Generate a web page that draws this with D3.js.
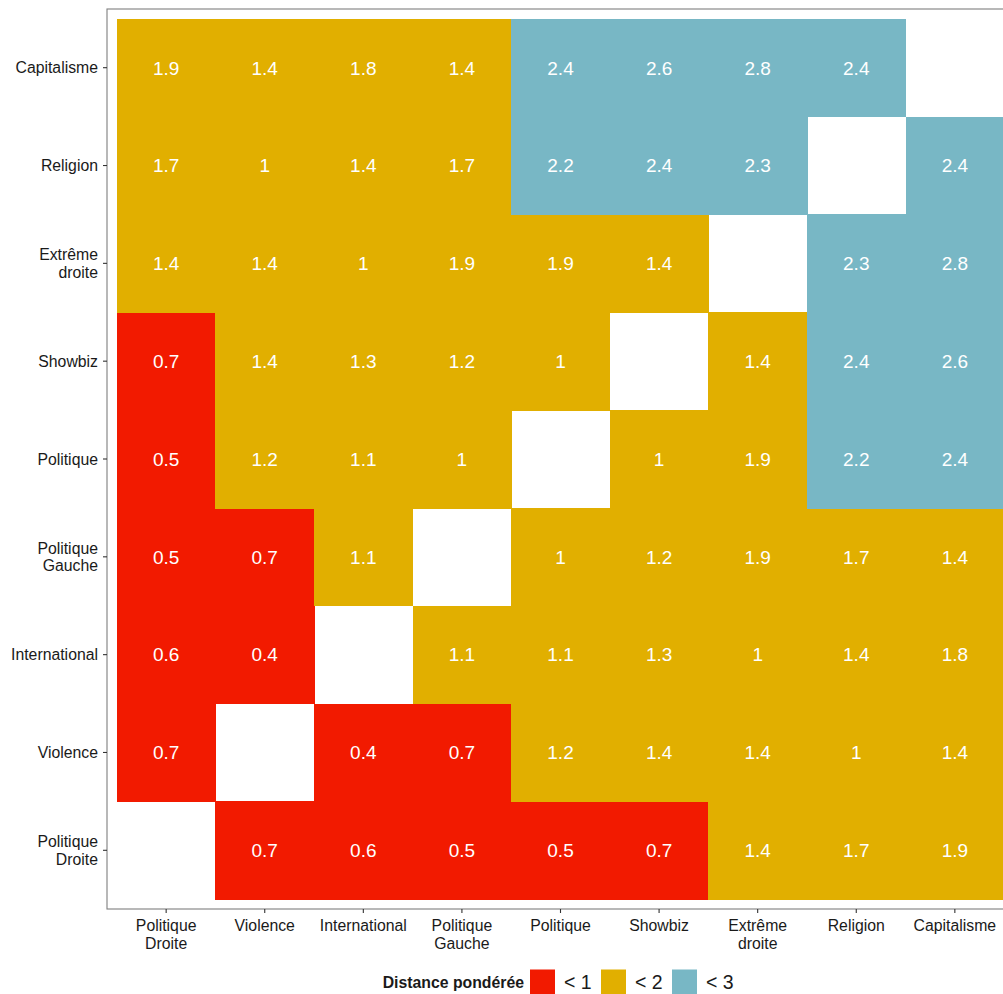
<!DOCTYPE html>
<html>
<head>
<meta charset="utf-8">
<script src="https://cdn.jsdelivr.net/npm/d3@7"></script>
<style>
  body { margin: 0; background: #fff; }
  text { font-family: "Liberation Sans", Arial, Helvetica, sans-serif; }
</style>
</head>
<body>
<div id="chart"></div>
<script>
// categories, same order on both axes (x: left to right, y: bottom to top)
var categories = ["Politique Droite", "Violence", "International", "Politique Gauche",
    "Politique", "Showbiz", "Extrême droite", "Religion", "Capitalisme"];

// one row per y category (bottom to top), values across x categories; null = diagonal
var rowPolitiqueDroite = [null, 0.7, 0.6, 0.5, 0.5, 0.7, 1.4, 1.7, 1.9];
var rowViolence        = [0.7, null, 0.4, 0.7, 1.2, 1.4, 1.4, 1, 1.4];
var rowInternational   = [0.6, 0.4, null, 1.1, 1.1, 1.3, 1, 1.4, 1.8];
var rowPolitiqueGauche = [0.5, 0.7, 1.1, null, 1, 1.2, 1.9, 1.7, 1.4];
var rowPolitique       = [0.5, 1.2, 1.1, 1, null, 1, 1.9, 2.2, 2.4];
var rowShowbiz         = [0.7, 1.4, 1.3, 1.2, 1, null, 1.4, 2.4, 2.6];
var rowExtremeDroite   = [1.4, 1.4, 1, 1.9, 1.9, 1.4, null, 2.3, 2.8];
var rowReligion        = [1.7, 1, 1.4, 1.7, 2.2, 2.4, 2.3, null, 2.4];
var rowCapitalisme     = [1.9, 1.4, 1.8, 1.4, 2.4, 2.6, 2.8, 2.4, null];

var rows = [rowPolitiqueDroite, rowViolence, rowInternational, rowPolitiqueGauche,
    rowPolitique, rowShowbiz, rowExtremeDroite, rowReligion, rowCapitalisme];

// legend classes
var classLabels = ["< 1", "< 2", "< 3"];
var classBreaks = [1, 2];
var classColors = ["#F21A00", "#E1AF00", "#78B7C5"];

var svgWidth = 1003, svgHeight = 994;
var panel = {left: 107, top: 9, right: 1014, bottom: 909};

var svg = d3.select("#chart").append("svg")
    .attr("width", svgWidth)
    .attr("height", svgHeight);

// ggplot-like discrete expansion: 0.6 units each side, tiles of width 1
var unitX = (panel.right - panel.left) / (categories.length + 0.2);
var unitY = (panel.bottom - panel.top) / (categories.length + 0.2);

var x = d3.scaleBand()
    .domain(categories)
    .range([panel.left + 0.1 * unitX, panel.right - 0.1 * unitX]);
var y = d3.scaleBand()
    .domain(categories)
    .range([panel.bottom - 0.1 * unitY, panel.top + 0.1 * unitY]);

var color = d3.scaleThreshold().domain(classBreaks).range(classColors);

var cells = [];
rows.forEach(function(r, i) {
    r.forEach(function(v, j) {
        if (v !== null) cells.push({x: categories[j], y: categories[i], value: v});
    });
});

var fmt = function(v) { return String(+v.toFixed(1)); };

var g = svg.append("g");

g.selectAll("rect.tile")
    .data(cells)
    .enter()
    .append("rect")
    .attr("class", "tile")
    .attr("x", function(d) { return x(d.x); })
    .attr("y", function(d) { return y(d.y); })
    .attr("width", x.bandwidth() + 0.6)
    .attr("height", y.bandwidth() + 0.6)
    .attr("shape-rendering", "crispEdges")
    .attr("fill", function(d) { return color(d.value); });

g.selectAll("text.lab")
    .data(cells)
    .enter()
    .append("text")
    .attr("class", "lab")
    .attr("x", function(d) { return x(d.x) + x.bandwidth() / 2; })
    .attr("y", function(d) { return y(d.y) + y.bandwidth() / 2; })
    .attr("dy", "0.36em")
    .attr("text-anchor", "middle")
    .attr("fill", "#fff")
    .style("font-size", "19px")
    .text(function(d) { return fmt(d.value); });

// panel border
svg.append("rect")
    .attr("x", panel.left)
    .attr("y", panel.top)
    .attr("width", panel.right - panel.left)
    .attr("height", panel.bottom - panel.top)
    .attr("fill", "none")
    .attr("stroke", "#7f7f7f")
    .attr("stroke-width", 1.1);

// two-line labels like ggplot's wrapped labels
function splitLabel(s) {
    var parts = s.split(" ");
    return parts.length > 1 ? [parts[0], parts.slice(1).join(" ")] : [s];
}

// x axis
var xAxis = svg.append("g")
    .attr("transform", "translate(0," + panel.bottom + ")")
    .call(d3.axisBottom(x).tickSize(4).tickPadding(3).tickSizeOuter(0));
xAxis.select(".domain").remove();
xAxis.selectAll(".tick line").attr("stroke", "#333").attr("stroke-width", 1.1);
xAxis.selectAll(".tick text").each(function(d) {
    var t = d3.select(this).text("")
        .attr("fill", "#1a1a1a")
        .style("font-size", "15.8px")
        .attr("y", 0)
        .attr("dy", null);
    splitLabel(d).forEach(function(line, i) {
        t.append("tspan").attr("x", 0).attr("y", 22 + i * 17.5).text(line);
    });
});

// y axis
var yAxis = svg.append("g")
    .attr("transform", "translate(" + panel.left + ",0)")
    .call(d3.axisLeft(y).tickSize(4).tickPadding(3).tickSizeOuter(0));
yAxis.select(".domain").remove();
yAxis.selectAll(".tick line").attr("stroke", "#333").attr("stroke-width", 1.1);
yAxis.selectAll(".tick text").each(function(d) {
    var lines = splitLabel(d);
    var t = d3.select(this).text("")
        .attr("fill", "#1a1a1a")
        .style("font-size", "15.8px")
        .attr("dy", null)
        .attr("x", -9);
    lines.forEach(function(line, i) {
        var off = (i - (lines.length - 1) / 2) * 17.5;
        t.append("tspan").attr("x", -9).attr("y", off).attr("dy", "0.35em").text(line);
    });
});

// legend
var legend = svg.append("g").attr("transform", "translate(0,982)");
legend.append("text")
    .attr("x", 524)
    .attr("y", 0)
    .attr("dy", "0.35em")
    .attr("text-anchor", "end")
    .style("font-size", "15.8px")
    .style("font-weight", "bold")
    .attr("fill", "#1a1a1a")
    .text("Distance pondérée");

var keyX = d3.scalePoint().domain(classLabels).range([530, 672]);
var keys = legend.selectAll("g.key")
    .data(classLabels)
    .enter()
    .append("g")
    .attr("class", "key")
    .attr("transform", function(d) { return "translate(" + keyX(d) + ",0)"; });
keys.append("rect")
    .attr("x", 0)
    .attr("y", -12.5)
    .attr("width", 25)
    .attr("height", 25)
    .attr("fill", function(d, i) { return classColors[i]; });
keys.append("text")
    .attr("x", 34)
    .attr("y", 0)
    .attr("dy", "0.35em")
    .style("font-size", "19.5px")
    .attr("fill", "#1a1a1a")
    .text(function(d) { return d; });
</script>
</body>
</html>
